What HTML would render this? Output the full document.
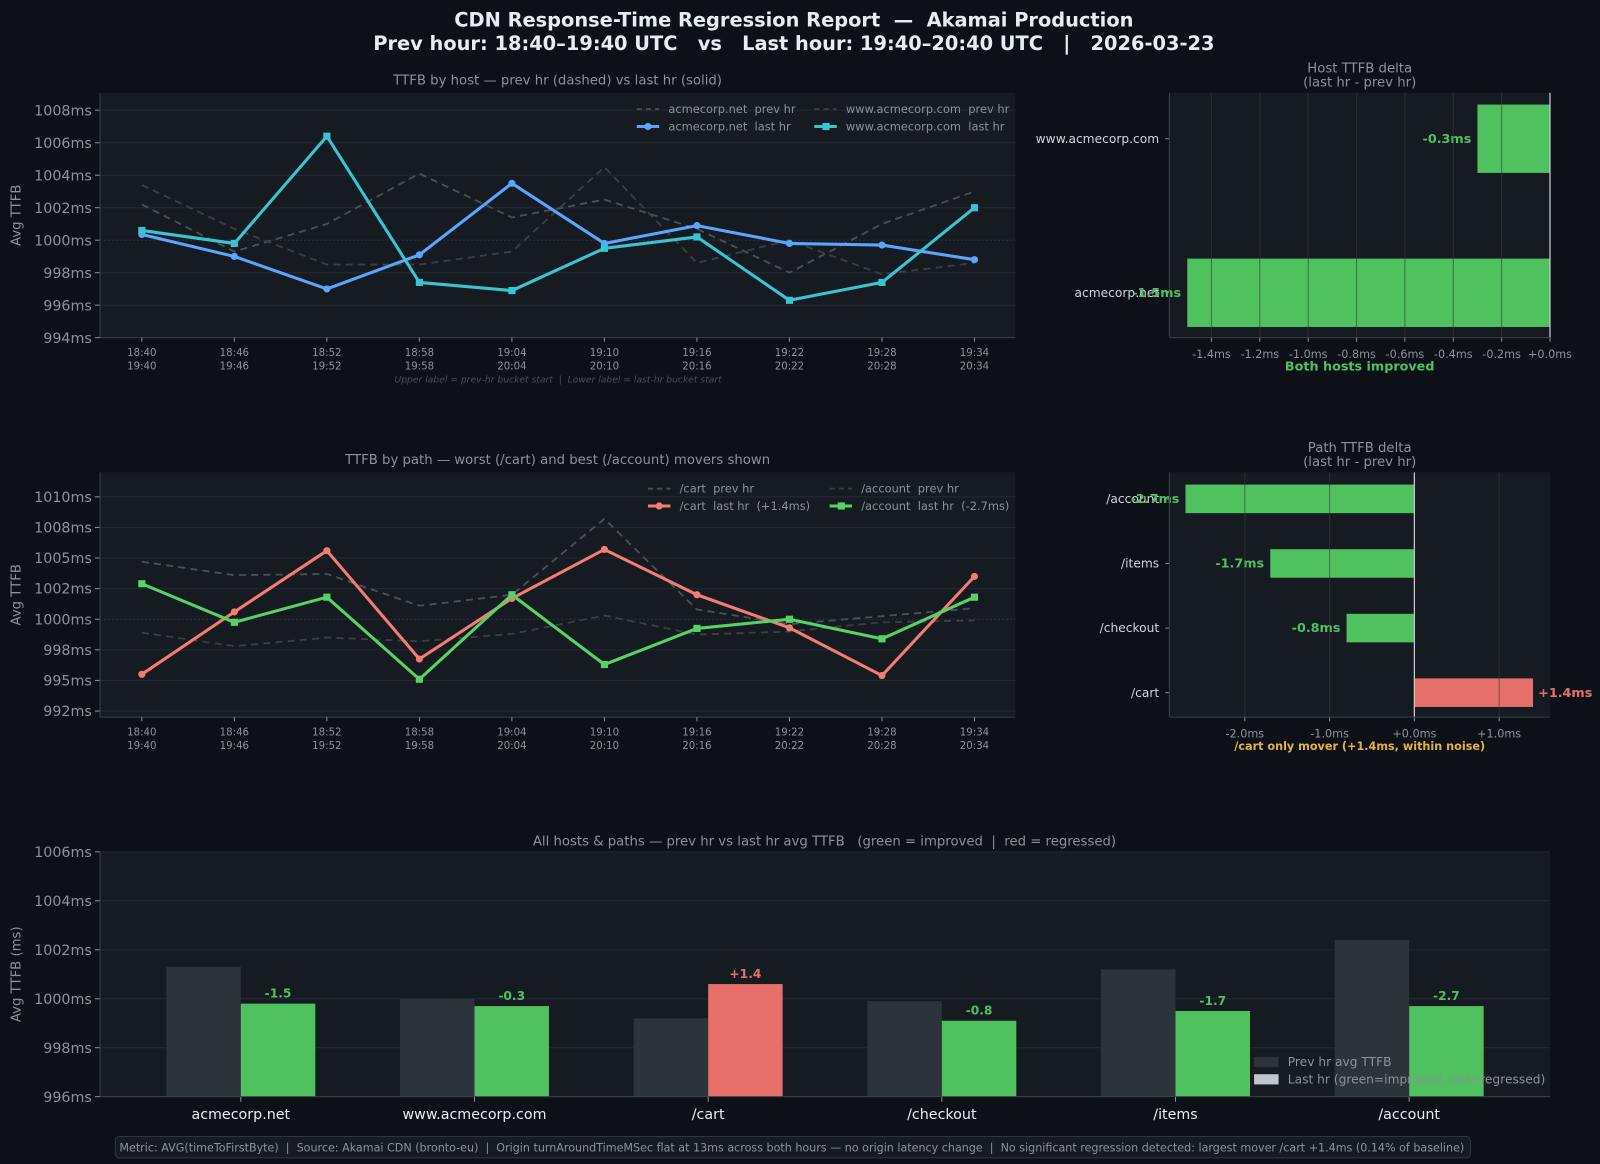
<!DOCTYPE html>
<html><head><meta charset="utf-8">
<style>
html,body{margin:0;padding:0;background:#0d1117;}
svg{display:block;font-family:"DejaVu Sans","Liberation Sans",sans-serif;}
text{white-space:pre;}
</style></head>
<body>
<svg id="c" width="1600" height="1164" viewBox="0 0 1568 1141" preserveAspectRatio="none" xmlns="http://www.w3.org/2000/svg">
<rect x="0" y="0" width="1568" height="1141" fill="#0d1117"/>
<text x="778" y="26" text-anchor="middle" fill="#e6edf3" font-size="19" font-weight="bold">CDN Response-Time Regression Report  —  Akamai Production</text>
<text x="778" y="49" text-anchor="middle" fill="#e6edf3" font-size="19" font-weight="bold">Prev hour: 18:40–19:40 UTC   vs   Last hour: 19:40–20:40 UTC   |   2026-03-23</text>
<g id="g"></g>
</svg>
<script>
// ---------- data ----------
const timePrev = ["18:40","18:46","18:52","18:58","19:04","19:10","19:16","19:22","19:28","19:34"];
const timeLast = ["19:40","19:46","19:52","19:58","20:04","20:10","20:16","20:22","20:28","20:34"];
const acmeNetPrev = [1002.2,999.3,1001.0,1004.1,1001.4,1002.5,1000.7,998.0,1001.0,1003.0];
const acmeNetLast = [1000.35,999.0,997.0,999.1,1003.5,999.8,1000.9,999.8,999.7,998.8];
const wwwPrev = [1003.4,1000.7,998.5,998.5,999.3,1004.5,998.6,1000.0,997.9,998.6];
const wwwLast = [1000.6,999.8,1006.4,997.4,996.9,999.5,1000.2,996.3,997.4,1002.0];
const hostTicks = [994,996,998,1000,1002,1004,1006,1008];
const cartPrev = [1004.7,1003.6,1003.7,1001.1,1002.0,1008.2,1000.8,999.6,1000.25,1000.9];
const cartLast = [995.5,1000.6,1005.6,996.75,1001.7,1005.7,1002.0,999.3,995.4,1003.5];
const accountPrev = [998.9,997.8,998.5,998.2,998.8,1000.3,998.75,999.0,999.75,999.9];
const accountLast = [1002.9,999.75,1001.8,995.1,1002.0,996.3,999.25,1000.0,998.4,1001.8];
const pathTicks = [992.5,995,997.5,1000,1002.5,1005,1007.5,1010];
const pathTickLabels = ["992ms","995ms","998ms","1000ms","1002ms","1005ms","1008ms","1010ms"];
const hostNames = ["www.acmecorp.com","acmecorp.net"];
const hostDelta = [-0.3,-1.5];
const hostDeltaTicks = [-1.4,-1.2,-1.0,-0.8,-0.6,-0.4,-0.2,0.0];
const pathNames = ["/account","/items","/checkout","/cart"];
const pathDelta = [-2.7,-1.7,-0.8,1.4];
const pathDeltaTicks = [-2.0,-1.0,0.0,1.0];
const allCats = ["acmecorp.net","www.acmecorp.com","/cart","/checkout","/items","/account"];
const allPrev = [1001.3,1000.0,999.2,999.9,1001.2,1002.4];
const allLast = [999.8,999.7,1000.6,999.1,999.5,999.7];
const allTicks = [996,998,1000,1002,1004,1006];

// ---------- helpers ----------
const NS="http://www.w3.org/2000/svg";
const root=document.getElementById('g');
function mk(tag,attrs,parent,text){const e=document.createElementNS(NS,tag);for(const k in attrs)e.setAttribute(k,attrs[k]);if(text!==undefined)e.textContent=text;(parent||root).appendChild(e);return e;}
const GREEN="#4fc15e",RED="#e5706a",PLOT="#161b22",GRID="#242a33",AX="#3a4049",DIM="#8b929a";
const fmtD=v=>(v>=0?"+":"")+v.toFixed(1)+"ms";

function lineChart(o){
  const {x0,x1,y0,y1,ymin,ymax}=o;
  const bg=mk('rect',{x:x0,y:y0,width:x1-x0,height:y1-y0,fill:PLOT});
  
  
  const X=i=>139+(955-139)*i/(timePrev.length-1);
  const Y=v=>y1-(v-ymin)/(ymax-ymin)*(y1-y0);
  o.ticks.forEach((t,i)=>{
    mk('line',{x1:x0,x2:x1,y1:Y(t),y2:Y(t),stroke:t===1000?'#2c323b':GRID,'stroke-width':1,'stroke-dasharray':t===1000?'2,2':''});
    mk('line',{x1:x0-5,x2:x0,y1:Y(t),y2:Y(t),stroke:DIM});
    const l=mk('text',{x:x0-8,y:Y(t)+5,'text-anchor':'end',fill:DIM,'font-size':14},undefined,o.tickLabels?o.tickLabels[i]:t+'ms');
    
    
  });
  mk('line',{x1:x0,x2:x0,y1:y0,y2:y1,stroke:AX});
  mk('line',{x1:x0,x2:x1,y1:y1,y2:y1,stroke:AX});
  timePrev.forEach((t,i)=>{
    mk('line',{x1:X(i),x2:X(i),y1:y1,y2:y1+4,stroke:DIM});
    const a=mk('text',{x:X(i),y:y1+18,'text-anchor':'middle',fill:DIM,'font-size':10},undefined,t);
    
    
    const b=mk('text',{x:X(i),y:y1+31,'text-anchor':'middle',fill:DIM,'font-size':10},undefined,timeLast[i]);
    
    
  });
  const yt=mk('text',{x:20,y:(y0+y1)/2,'text-anchor':'middle',fill:DIM,'font-size':13,transform:`rotate(-90 20 ${(y0+y1)/2})`},undefined,'Avg TTFB');
  
  
  const tt=mk('text',{x:(x0+x1)/2,y:y0-8,'text-anchor':'middle',fill:DIM,'font-size':13},undefined,o.title);
  
  
  o.series.forEach(s=>{
    const pts=s.data.map((v,i)=>X(i)+','+Y(v)).join(' ');
    const pl=mk('polyline',{points:pts,fill:'none',stroke:s.color,'stroke-width':s.dash?1.8:3,'stroke-dasharray':s.dash?'7,5':'','stroke-linejoin':'round'});
    
    
    if(!s.dash) s.data.forEach((v,i)=>{
      const m=s.marker==='sq'?mk('rect',{x:X(i)-3.5,y:Y(v)-3.5,width:7,height:7,fill:s.color}):mk('circle',{cx:X(i),cy:Y(v),r:3.5,fill:s.color});
      
      
    });
  });
  o.series.forEach((s,k)=>{
    const col=k%2, row=k>>1;
    const bx=o.legX[col], by=y0+16+row*17;
    mk('line',{x1:bx,x2:bx+22,y1:by,y2:by,stroke:s.color,'stroke-width':s.dash?1.8:3,'stroke-dasharray':s.dash?'5,4':''});
    if(!s.dash){ if(s.marker==='sq')mk('rect',{x:bx+8,y:by-3.5,width:7,height:7,fill:s.color}); else mk('circle',{cx:bx+11,cy:by,r:3.5,fill:s.color}); }
    const t=mk('text',{x:bx+31,y:by+4,fill:DIM,'font-size':11.2},undefined,s.label);
    
    
  });
}

lineChart({name:'host-ttfb-chart',x0:98,x1:995,y0:91,y1:331,ymin:994,ymax:1009.07,ticks:hostTicks,
  title:'TTFB by host — prev hr (dashed) vs last hr (solid)',legX:[624,798],
  series:[
    {id:'acmecorp-net-prev',data:acmeNetPrev,color:'#4b5058',dash:true,label:'acmecorp.net  prev hr'},
    {id:'www-acmecorp-prev',data:wwwPrev,color:'#3a3f46',dash:true,label:'www.acmecorp.com  prev hr'},
    {id:'acmecorp-net-last',data:acmeNetLast,color:'#58a6ff',label:'acmecorp.net  last hr'},
    {id:'www-acmecorp-last',data:wwwLast,color:'#39c5cf',marker:'sq',label:'www.acmecorp.com  last hr'}]});
const note=mk('text',{x:547,y:375,'text-anchor':'middle',fill:'#4b5058','font-size':9,'font-style':'italic'},undefined,'Upper label = prev-hr bucket start  |  Lower label = last-hr bucket start');



lineChart({name:'path-ttfb-chart',x0:98,x1:995,y0:463,y1:703,ymin:992,ymax:1012,ticks:pathTicks,tickLabels:pathTickLabels,
  title:'TTFB by path — worst (/cart) and best (/account) movers shown',legX:[635,813],
  series:[
    {id:'cart-prev',data:cartPrev,color:'#4b5058',dash:true,label:'/cart  prev hr'},
    {id:'account-prev',data:accountPrev,color:'#3a3f46',dash:true,label:'/account  prev hr'},
    {id:'cart-last',data:cartLast,color:'#f47c72',label:'/cart  last hr  (+1.4ms)'},
    {id:'account-last',data:accountLast,color:'#56d364',marker:'sq',label:'/account  last hr  (-2.7ms)'}]});

function deltaChart(o){
  const {x0,x1,y0,y1,xmin,xmax}=o;
  const bg=mk('rect',{x:x0,y:y0,width:x1-x0,height:y1-y0,fill:PLOT});
  
  
  const X=v=>x0+(v-xmin)/(xmax-xmin)*(x1-x0);
  const n=o.names.length;
  const Yc=i=>o.cTop+(o.cBot-o.cTop)*i/(n-1);
  o.ticks.forEach(t=>mk('line',{x1:X(t),x2:X(t),y1:y0,y2:y1,stroke:GRID}));
  o.names.forEach((nm,i)=>{
    const v=o.vals[i], c=v<0?GREEN:RED;
    const b=mk('rect',{x:Math.min(X(0),X(v)),y:Yc(i)-o.bh/2,width:Math.abs(X(v)-X(0)),height:o.bh,fill:c});
    
    
    mk('line',{x1:x0-4,x2:x0,y1:Yc(i),y2:Yc(i),stroke:DIM});
    const l=mk('text',{x:x0-10,y:Yc(i)+4,'text-anchor':'end',fill:'#d0d5db','font-size':12},undefined,nm);
    
    
    const vl=mk('text',{x:v<0?X(v)-6:X(v)+5,y:Yc(i)+4,'text-anchor':v<0?'end':'start',fill:c,'font-size':12.5,'font-weight':'bold'},undefined,fmtD(v));
    
    
  });
  o.ticks.forEach(t=>{
    mk('line',{x1:X(t),x2:X(t),y1:y0,y2:y1,stroke:'rgba(40,50,40,0.55)'});
    mk('line',{x1:X(t),x2:X(t),y1:y1,y2:y1+4,stroke:DIM});
    const tl=mk('text',{x:X(t),y:y1+20,'text-anchor':'middle',fill:DIM,'font-size':11},undefined,fmtD(t));
    
    
  });
  mk('line',{x1:X(0),x2:X(0),y1:y0,y2:y1,stroke:'#c9ced4','stroke-width':1.2});
  mk('line',{x1:x0,x2:x0,y1:y0,y2:y1,stroke:AX});
  mk('line',{x1:x0,x2:x1,y1:y1,y2:y1,stroke:AX});
  const t1=mk('text',{x:(x0+x1)/2,y:y0-20,'text-anchor':'middle',fill:DIM,'font-size':13},undefined,o.title);
  
  
  const t2=mk('text',{x:(x0+x1)/2,y:y0-6,'text-anchor':'middle',fill:DIM,'font-size':13},undefined,'(last hr - prev hr)');
  
  
  const nt=mk('text',{x:(x0+x1)/2,y:y1+32,'text-anchor':'middle',fill:o.noteColor,'font-size':o.noteSize,'font-weight':'bold'},undefined,o.note);
  
  
}
deltaChart({name:'host-delta-chart',x0:1146,x1:1519,y0:91,y1:331,cTop:136,cBot:287,xmin:-1.574,xmax:0,names:hostNames,vals:hostDelta,ticks:hostDeltaTicks,bh:67,title:'Host TTFB delta',note:'Both hosts improved',noteColor:GREEN,noteSize:12.5});
deltaChart({name:'path-delta-chart',x0:1146,x1:1519,y0:463,y1:703,cTop:489,cBot:679,xmin:-2.89,xmax:1.6,names:pathNames,vals:pathDelta,ticks:pathDeltaTicks,bh:28,title:'Path TTFB delta',note:'/cart only mover (+1.4ms, within noise)',noteColor:'#e3b341',noteSize:11});

// bottom bar chart
(function(){
  const x0=98,x1=1519,y0=835,y1=1075,ymin=996,ymax=1006;
  const bg=mk('rect',{x:x0,y:y0,width:x1-x0,height:y1-y0,fill:PLOT});
  
  
  const Y=v=>y1-(v-ymin)/(ymax-ymin)*(y1-y0);
  const Xc=i=>236+229*i, bw=73;
  allTicks.forEach(t=>{
    mk('line',{x1:x0,x2:x1,y1:Y(t),y2:Y(t),stroke:GRID});
    mk('line',{x1:x0-5,x2:x0,y1:Y(t),y2:Y(t),stroke:DIM});
    const l=mk('text',{x:x0-8,y:Y(t)+5,'text-anchor':'end',fill:DIM,'font-size':14},undefined,t+'ms');
    
    
  });
  allCats.forEach((c,i)=>{
    const p=mk('rect',{x:Xc(i)-bw,y:Y(allPrev[i]),width:bw,height:y1-Y(allPrev[i]),fill:'#2d333b'});
    
    
    const d=allLast[i]-allPrev[i], col=d<0?GREEN:RED;
    const b=mk('rect',{x:Xc(i),y:Y(allLast[i]),width:bw,height:y1-Y(allLast[i]),fill:col});
    
    
    const vl=mk('text',{x:Xc(i)+bw/2,y:Y(allLast[i])-6,'text-anchor':'middle',fill:col,'font-size':12,'font-weight':'bold'},undefined,(d>=0?'+':'')+d.toFixed(1));
    
    
    mk('line',{x1:Xc(i),x2:Xc(i),y1:y1,y2:y1+5,stroke:DIM});
    const cl=mk('text',{x:Xc(i),y:y1+22,'text-anchor':'middle',fill:'#e6edf3','font-size':14},undefined,c);
    
    
  });
  mk('line',{x1:x0,x2:x0,y1:y0,y2:y1,stroke:AX});
  mk('line',{x1:x0,x2:x1,y1:y1,y2:y1,stroke:AX});
  const yt=mk('text',{x:20,y:955,'text-anchor':'middle',fill:DIM,'font-size':13,transform:'rotate(-90 20 955)'},undefined,'Avg TTFB (ms)');
  
  
  const tt=mk('text',{x:808,y:829,'text-anchor':'middle',fill:DIM,'font-size':13},undefined,'All hosts & paths — prev hr vs last hr avg TTFB   (green = improved  |  red = regressed)');
  
  
  mk('rect',{x:1229,y:1036,width:24,height:10,fill:'#2d333b'});
  const l1=mk('text',{x:1262,y:1045,fill:DIM,'font-size':12},undefined,'Prev hr avg TTFB');
  
  
  mk('rect',{x:1229,y:1053,width:24,height:10,fill:'#c0c6ce'});
  const l2=mk('text',{x:1262,y:1062,fill:DIM,'font-size':12},undefined,'Last hr (green=improved, red=regressed)');
  
  
})();
const fb=mk('rect',{x:113,y:1114,width:1328,height:21,rx:4,fill:'#161b22',stroke:'#30363d'});


const ft=mk('text',{x:117,y:1129,fill:DIM,'font-size':11,textLength:1318,lengthAdjust:'spacingAndGlyphs'},undefined,'Metric: AVG(timeToFirstByte)  |  Source: Akamai CDN (bronto-eu)  |  Origin turnAroundTimeMSec flat at 13ms across both hours — no origin latency change  |  No significant regression detected: largest mover /cart +1.4ms (0.14% of baseline)');


</script>
</body></html>
